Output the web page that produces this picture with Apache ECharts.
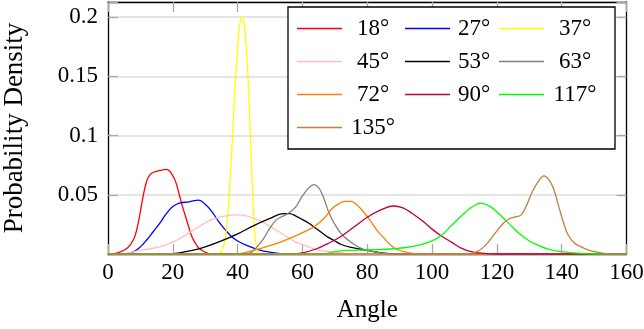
<!DOCTYPE html>
<html>
<head>
<meta charset="utf-8">
<script src="https://cdn.jsdelivr.net/npm/echarts@6/dist/echarts.min.js"></script>
<style>
  html, body { margin: 0; padding: 0; background: #fff; }
  #chart { width: 644px; height: 329px; }
</style>
</head>
<body>
<div id="chart"></div>
<script>
// Kernel density estimates of the measured angle, one curve per nominal angle.
const FONT = '"Liberation Serif", "Times New Roman", "DejaVu Serif", serif';

const seriesNames = ['18°', '27°', '37°', '45°', '53°', '63°', '72°', '90°', '117°', '135°'];
const seriesColors = ['#ff0000', '#0000ff', '#ffff00', '#ffbfbf', '#000000',
                      '#808080', '#ff8000', '#bf0040', '#00ff00', '#bf8040'];

const xTickLabels = ['0', '20', '40', '60', '80', '100', '120', '140', '160'];
const yTickLabels = ['0.05', '0.1', '0.15', '0.2'];

// [angle, density] samples
const d18 = [[0,0],[3,0.001],[6,0.005],[8,0.013],[9,0.022],[10,0.036],[11,0.051],[12,0.062],[13,0.067],
  [14,0.069],[16,0.0705],[18,0.0715],[19,0.070],[20,0.066],[21,0.060],[22,0.050],[23,0.040],[24,0.031],
  [25,0.022],[26,0.014],[27,0.009],[28,0.005],[30,0.0015],[32,0],[160,0]];
const d27 = [[0,0],[5,0],[8,0.002],[10,0.006],[12,0.012],[14,0.019],[16,0.026],[18,0.034],[20,0.040],
  [22,0.043],[25,0.044],[28,0.0455],[30,0.042],[32,0.036],[34,0.028],[36,0.021],[38,0.015],[40,0.011],
  [43,0.007],[46,0.004],[50,0.0015],[55,0],[160,0]];
const d37 = [[0,0],[33,0],[34,0.0005],[35,0.002],[36,0.010],[36.5,0.020],[37,0.035],[37.5,0.055],
  [38,0.078],[38.5,0.103],[39,0.130],[39.5,0.155],[40,0.175],[40.5,0.190],[41,0.199],[41.5,0.2],
  [42,0.195],[42.5,0.180],[43,0.160],[43.5,0.130],[44,0.095],[44.5,0.060],[45,0.030],[45.5,0.012],
  [46,0.004],[47,0],[160,0]];
const d45 = [[0,0],[4,0],[8,0.002],[12,0.004],[16,0.006],[20,0.010],[24,0.016],[28,0.023],[32,0.029],
  [36,0.032],[40,0.033],[43,0.032],[46,0.029],[49,0.025],[52,0.020],[55,0.015],[58,0.010],[61,0.007],
  [64,0.004],[68,0.002],[72,0.001],[76,0],[160,0]];
const d53 = [[0,0],[18,0],[22,0.001],[26,0.003],[30,0.006],[35,0.011],[40,0.017],[45,0.024],[50,0.030],
  [54,0.034],[56,0.034],[58,0.032],[60,0.029],[62,0.026],[64,0.022],[66,0.018],[68,0.014],[70,0.011],
  [72,0.008],[75,0.0055],[78,0.004],[82,0.002],[86,0.0005],[90,0],[160,0]];
const d63 = [[0,0],[42,0],[44,0.001],[46,0.006],[48,0.013],[50,0.022],[52,0.029],[54,0.032],[56,0.035],
  [58,0.040],[60,0.049],[62,0.056],[63.5,0.0585],[65,0.056],[66,0.051],[67,0.044],[68,0.036],[69,0.030],
  [70,0.025],[72,0.017],[74,0.012],[76,0.008],[78,0.005],[80,0.003],[84,0.001],[88,0],[160,0]];
const d72 = [[0,0],[38,0],[42,0.001],[46,0.004],[50,0.007],[55,0.012],[60,0.018],[63,0.022],[65,0.026],
  [67,0.031],[69,0.038],[71,0.042],[73,0.0445],[75,0.0445],[77,0.041],[79,0.035],[81,0.028],[83,0.020],
  [85,0.014],[87,0.008],[89,0.004],[92,0.0015],[96,0],[160,0]];
const d90 = [[0,0],[56,0],[60,0.001],[64,0.004],[68,0.009],[72,0.015],[76,0.023],[80,0.031],[84,0.037],
  [88,0.0405],[91,0.039],[94,0.034],[97,0.028],[100,0.021],[103,0.015],[106,0.010],[109,0.005],
  [112,0.002],[116,0.0005],[120,0],[160,0]];
const d117 = [[0,0],[66,0],[70,0.002],[74,0.003],[80,0.0035],[86,0.004],[92,0.0055],[96,0.0075],
  [100,0.011],[103,0.016],[106,0.024],[109,0.032],[112,0.039],[115,0.0428],[118,0.040],[121,0.033],
  [124,0.025],[127,0.017],[130,0.011],[133,0.007],[136,0.004],[140,0.002],[145,0.0007],[150,0],[160,0]];
const d135 = [[0,0],[110,0],[113,0.001],[116,0.006],[119,0.016],[122,0.026],[124,0.030],[126,0.0315],
  [127.5,0.033],[129,0.040],[131,0.053],[133,0.062],[134.5,0.066],[136,0.063],[137.5,0.055],[139,0.041],
  [140.5,0.027],[142,0.016],[144,0.009],[146,0.006],[148,0.0035],[151,0.0015],[155,0],[160,0]];

const seriesData = [d18, d27, d37, d45, d53, d63, d72, d90, d117, d135];

const chart = echarts.init(document.getElementById('chart'), null, { renderer: 'canvas' });

const tickStyle = { color: '#a8a8a8', width: 1.3 };
const frameStyle = { color: '#000', width: 1.3 };

function pickLabel(list, v) {
  const s = list.find(t => Math.abs(parseFloat(t) - v) < 1e-9);
  return s === undefined ? '' : s;
}

const legendRich = {};
const colWidths = [52, 38, 52];
colWidths.forEach((w, i) => {
  legendRich['c' + i] = { width: w, height: 27, align: 'center', fontSize: 23, fontFamily: FONT,
                          color: '#000', lineHeight: 27 };
});

// a flat stroke used as the legend key
const lineIcon = 'path://M0,0H45V1.3H0Z';

chart.setOption({
  animation: false,
  backgroundColor: '#fff',
  grid: { left: 108, right: 17.5, top: 2, bottom: 75, containLabel: false, outerBoundsMode: 'none' },
  legend: {
    data: seriesNames.map(n => ({ name: n, icon: lineIcon })),
    left: 288, top: 7,
    width: 330,
    padding: [8, 14, 8, 9],
    itemWidth: 45, itemHeight: 27, itemGap: 6,
    backgroundColor: '#fff',
    borderColor: '#000', borderWidth: 1.3, borderRadius: 0,
    selectedMode: false,
    formatter: name => '{c' + (seriesNames.indexOf(name) % 3) + '|' + name + '}',
    textStyle: { fontFamily: FONT, fontSize: 23, color: '#000', lineHeight: 27, rich: legendRich }
  },
  xAxis: [
    {
      type: 'value', position: 'bottom', min: 0, max: 160, interval: 20,
      axisLine: { show: true, onZero: false, lineStyle: frameStyle },
      axisTick: { show: true, inside: true, length: 10, lineStyle: tickStyle },
      axisLabel: { formatter: v => pickLabel(xTickLabels, v), fontFamily: FONT, fontSize: 23,
                   color: '#000', margin: 7, hideOverlap: false },
      splitLine: { show: false },
      name: 'Angle', nameLocation: 'middle', nameGap: 44,
      nameTextStyle: { fontFamily: FONT, fontSize: 25, color: '#000' }
    },
    {
      type: 'value', position: 'top', min: 0, max: 160, interval: 20,
      axisLine: { show: true, onZero: false, lineStyle: frameStyle },
      axisTick: { show: true, inside: true, length: 10, lineStyle: tickStyle },
      axisLabel: { show: false },
      splitLine: { show: false }
    }
  ],
  yAxis: [
    {
      type: 'value', position: 'left', min: 0, max: 0.2127, interval: 0.05,
      axisLine: { show: true, onZero: false, lineStyle: frameStyle },
      axisTick: { show: true, inside: true, length: 10, lineStyle: tickStyle },
      axisLabel: { formatter: v => pickLabel(yTickLabels, v), fontFamily: FONT, fontSize: 23,
                   color: '#000', margin: 10 },
      splitLine: { show: true, lineStyle: { color: '#dcdcdc', width: 1.6 } },
      name: 'Probability Density', nameLocation: 'middle', nameGap: 80,
      nameTextStyle: { fontFamily: FONT, fontSize: 27, color: '#000' }
    },
    {
      type: 'value', position: 'right', min: 0, max: 0.2127, interval: 0.05,
      axisLine: { show: true, onZero: false, lineStyle: frameStyle },
      axisTick: { show: true, inside: true, length: 10, lineStyle: tickStyle },
      axisLabel: { show: false },
      splitLine: { show: false }
    }
  ],
  series: seriesNames.map((name, i) => ({
    name: name,
    type: 'line',
    xAxisIndex: 0, yAxisIndex: 0,
    data: seriesData[i],
    smooth: 0.4,
    symbol: 'none',
    showSymbol: false,
    clip: false,
    color: seriesColors[i],
    lineStyle: { color: seriesColors[i], width: 1.3 },
    emphasis: { disabled: true }
  }))
});
</script>
</body>
</html>
